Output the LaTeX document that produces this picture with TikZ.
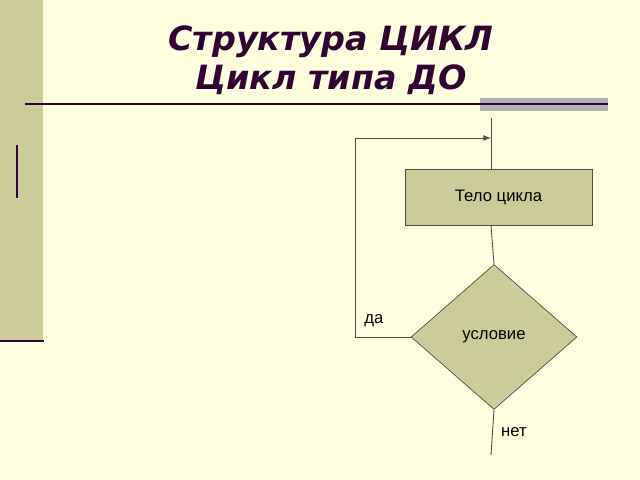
\documentclass[tikz,border=0pt]{standalone}
\usepackage{fontspec}
\setmainfont{Liberation Sans}
\newfontfamily\titlefont{DejaVu Sans}
\usetikzlibrary{shapes.geometric}
\usetikzlibrary{positioning}
\definecolor{paper}{HTML}{FFFFE0}
\definecolor{band}{HTML}{CCCC99}
\definecolor{blockfill}{HTML}{CCCC99}
\definecolor{plum}{HTML}{330033}

\begin{document}
\begin{tikzpicture}[x=0.02cm,y=-0.02cm,
  blockbox/.style={draw=black!70,fill=blockfill,font=\fontsize{9.5}{11}\selectfont},
  flow/.style={draw=black!70,line width=0.5pt}]
\fill [paper] (0,0) rectangle (640,480);
\useasboundingbox (0,0) rectangle (640,480);
% slide decoration
\fill [band] (0,0) rectangle (43,341);
\draw [plum,line width=1.5pt] (0,341) -- (44,341);
\draw [plum,line width=0.8pt] (17,145) -- (17,198);
\fill [black!30] (480,98) rectangle (608,111);
\draw [plum,line width=1pt] (25,104) -- (608,104);
\node [plum,align=center,font=\titlefont\bfseries\itshape\fontsize{19}{22}\selectfont] (title) at (331,60) {Структура ЦИКЛ\\Цикл типа ДО};

% flow chart
\node [blockbox,minimum width=3.74cm,minimum height=1.12cm] (body) at (498.5,197) {Тело цикла};
\node [blockbox,diamond,aspect=1.14,inner sep=0pt,minimum width=3.32cm,minimum height=2.9cm] (cond) at (494,337) {условие};
\coordinate (entry) at (491,118);
\coordinate (join) at (491,138);
\coordinate (back) at (355,337);
\coordinate (exit) at (491,455);
\draw [flow] (entry) -- (body.north -| entry);
\draw [flow] (body.south -| entry) -- (cond.north);
\draw [flow,-latex] (cond.west) -- (back) |- (join);
\draw [flow] (cond.south) -- (exit);
\node [font=\fontsize{9.5}{11}\selectfont] (yes) at (374,321) {да};
\node [font=\fontsize{9.5}{11}\selectfont] (no) at (514,432) {нет};
\end{tikzpicture}
\end{document}
